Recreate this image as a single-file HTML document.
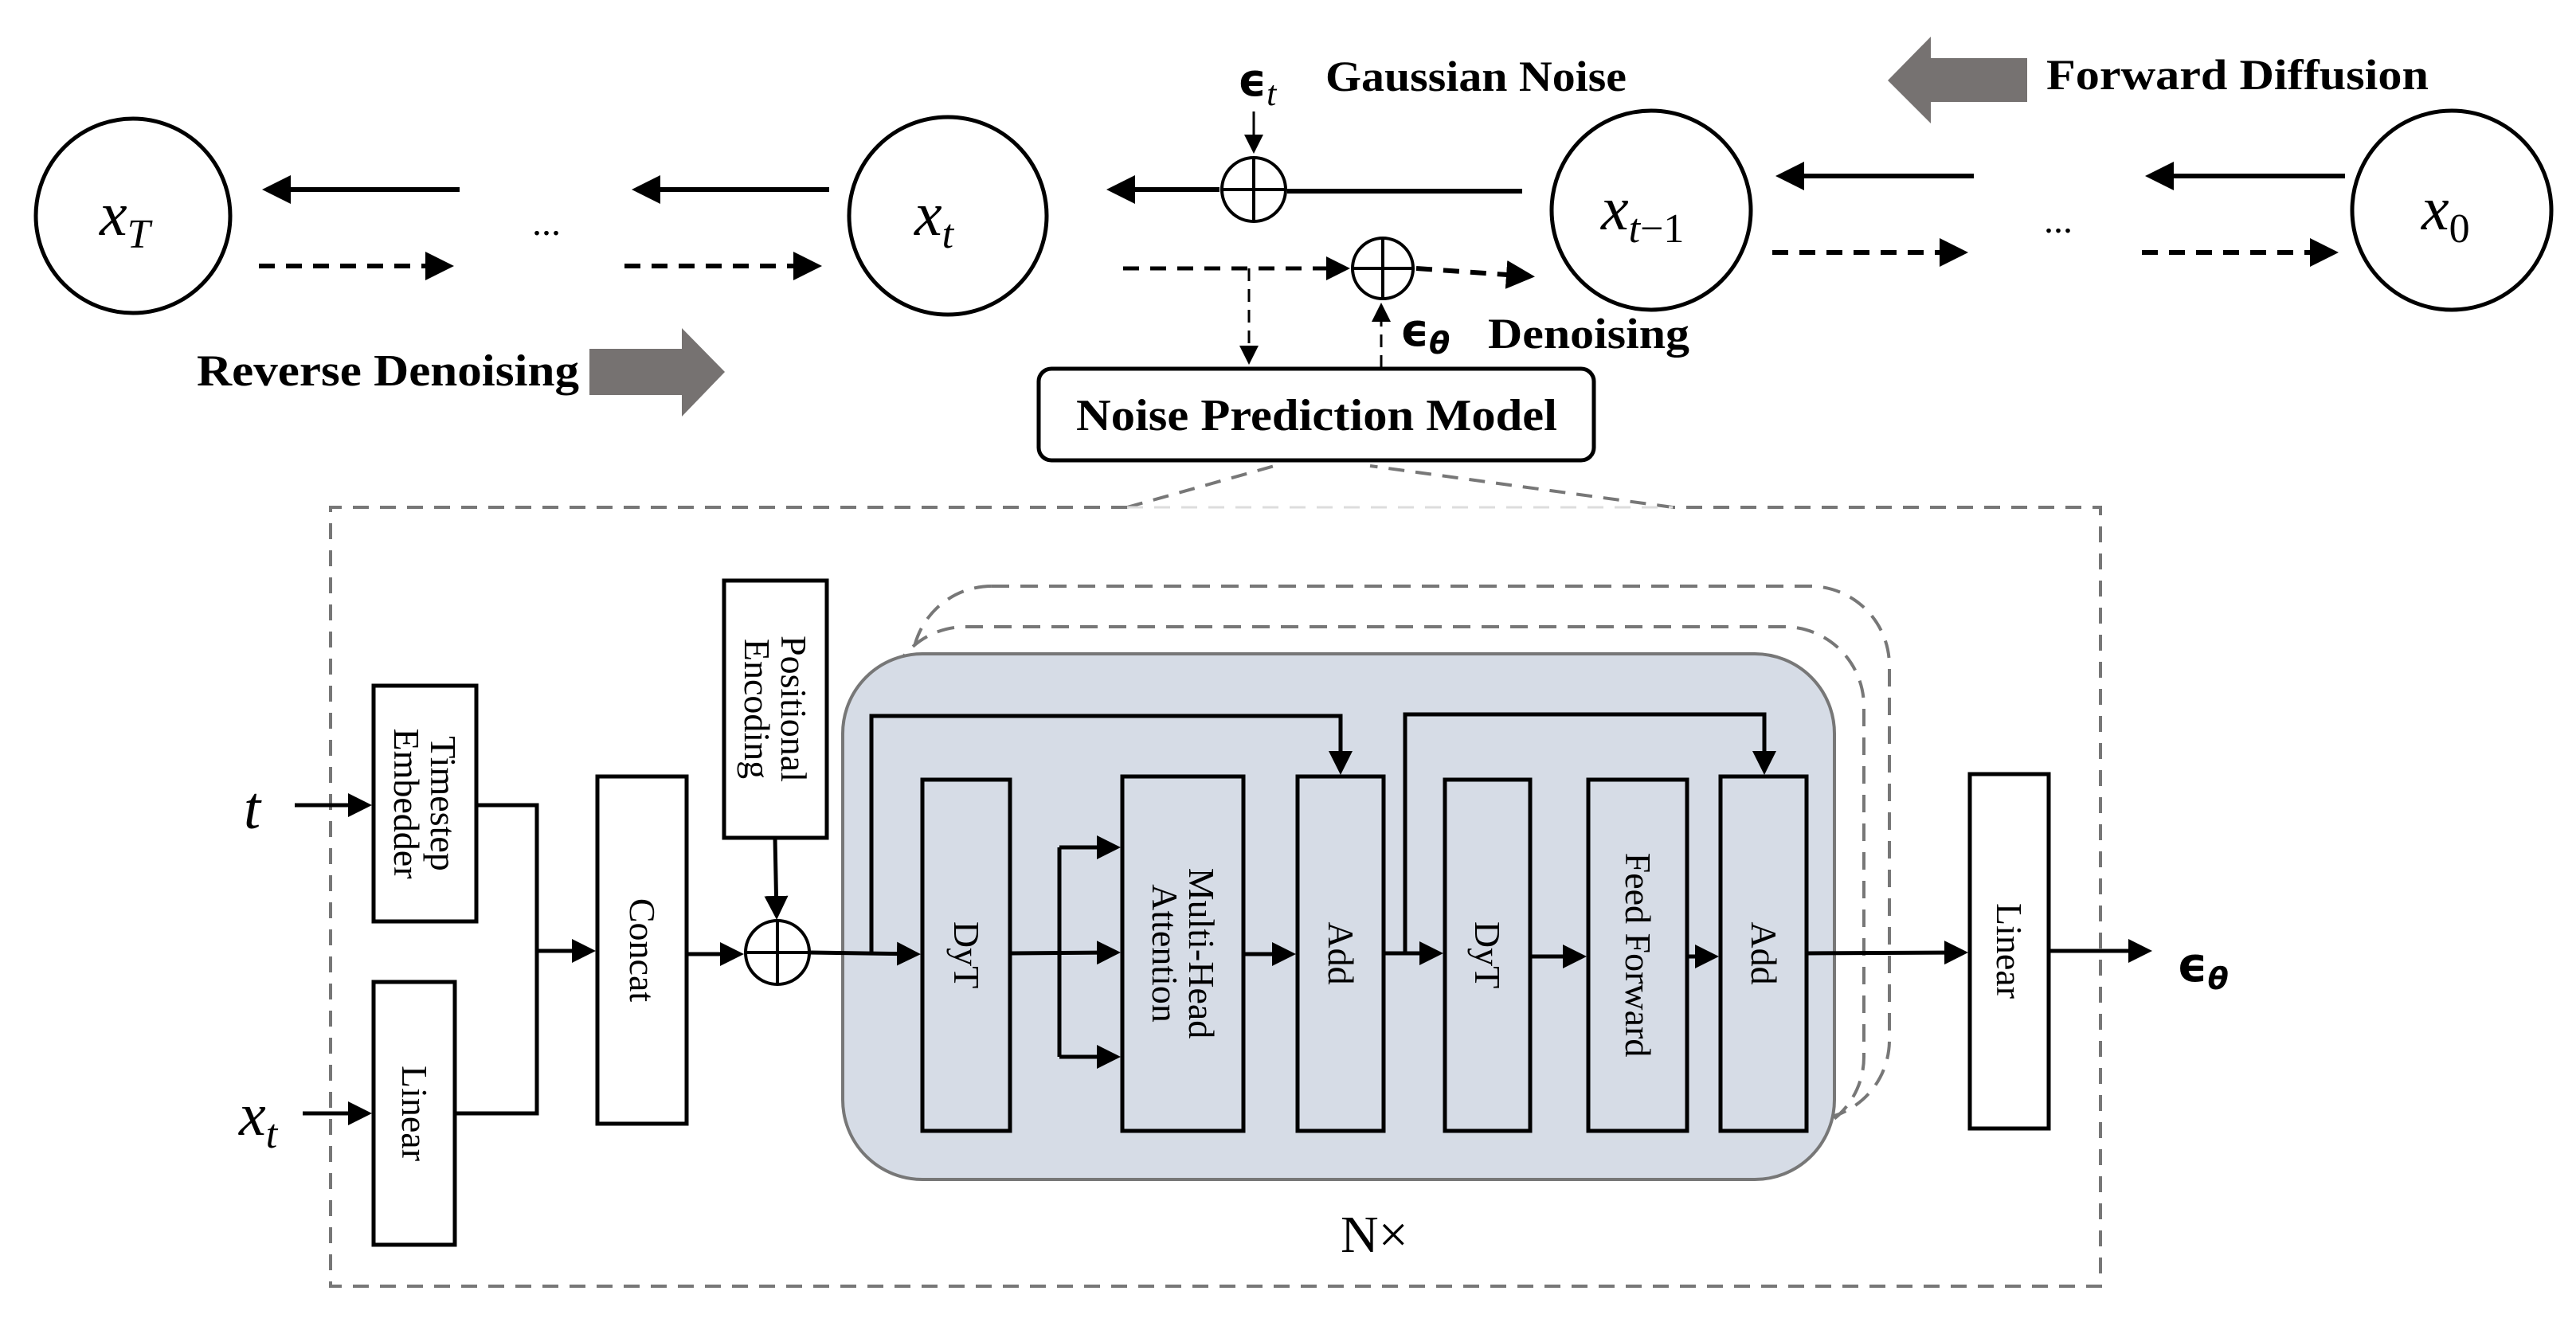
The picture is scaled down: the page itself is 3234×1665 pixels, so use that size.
<!DOCTYPE html>
<html><head><meta charset="utf-8"><style>
html,body{margin:0;padding:0;background:#fff;}
svg{display:block;}
.s{font-family:"Liberation Serif",serif;}
.b{font-family:"Liberation Serif",serif;font-weight:bold;}
.m{font-family:"Liberation Serif",serif;font-style:italic;}
.e{font-family:"DejaVu Sans",sans-serif;font-weight:bold;}
</style></head><body>
<svg width="3234" height="1665" viewBox="0 0 3234 1665" xmlns="http://www.w3.org/2000/svg">
<defs>
<marker id="a" markerWidth="6" markerHeight="6" refX="5" refY="3" orient="auto" markerUnits="strokeWidth"><path d="M0,0 L6,3 L0,6 z" fill="#000"/></marker>
<marker id="a2" markerWidth="8" markerHeight="8" refX="7" refY="4" orient="auto" markerUnits="strokeWidth"><path d="M0,0 L8,4 L0,8 z" fill="#000"/></marker>
</defs>

<g fill="none" stroke="#000" stroke-width="5">
<circle cx="167" cy="271" r="122"/>
<circle cx="1190" cy="271" r="124"/>
<circle cx="2073" cy="264" r="125"/>
<circle cx="3078" cy="264" r="125"/>
</g>
<text class="m" x="125" y="295" font-size="78">x<tspan font-size="52" dy="16">T</tspan></text>
<text class="m" x="1148" y="295" font-size="78">x<tspan font-size="52" dy="16">t</tspan></text>
<text class="m" x="2010" y="288" font-size="78">x<tspan font-size="52" dy="16">t</tspan><tspan class="s" font-style="normal" font-size="52">−1</tspan></text>
<text class="m" x="3040" y="288" font-size="78">x<tspan class="s" font-style="normal" font-size="52" dy="16">0</tspan></text>
<text class="s" x="668" y="295" font-size="48">...</text>
<text class="s" x="2566" y="292" font-size="48">...</text>

<g stroke="#000" stroke-width="6" marker-end="url(#a)">
<line x1="577" y1="238" x2="335" y2="238"/>
<line x1="1041" y1="238" x2="799" y2="238"/>
<line x1="1531" y1="238" x2="1395" y2="238"/>
<line x1="2478" y1="221" x2="2235" y2="221"/>
<line x1="2944" y1="221" x2="2699" y2="221"/>
</g>
<line x1="1911" y1="240" x2="1616" y2="240" stroke="#000" stroke-width="6"/>
<g stroke="#000" stroke-width="6" stroke-dasharray="20 14" marker-end="url(#a)">
<line x1="325" y1="334" x2="564" y2="334"/>
<line x1="784" y1="334" x2="1026" y2="334"/>
<line x1="2225" y1="317" x2="2465" y2="317"/>
<line x1="2689" y1="317" x2="2930" y2="317"/>
<line x1="1778" y1="337" x2="1921" y2="347"/>
<line x1="1410" y1="337" x2="1690" y2="337" stroke-width="5"/>
</g>
<line x1="1568" y1="337" x2="1568" y2="455" stroke="#000" stroke-width="3" stroke-dasharray="16 10" marker-end="url(#a2)"/>
<line x1="1734" y1="462" x2="1734" y2="383" stroke="#000" stroke-width="3" stroke-dasharray="16 10" marker-end="url(#a2)"/>
<line x1="1574" y1="140" x2="1574" y2="190" stroke="#000" stroke-width="3" marker-end="url(#a2)"/>

<g fill="#fff" stroke="#000" stroke-width="4">
<circle cx="1574" cy="238" r="40"/>
<circle cx="1736" cy="337" r="38"/>
<circle cx="976" cy="1196" r="40"/>
</g>
<g stroke="#000" stroke-width="4">
<line x1="1534" y1="238" x2="1614" y2="238"/><line x1="1574" y1="198" x2="1574" y2="278"/>
<line x1="1698" y1="337" x2="1774" y2="337"/><line x1="1736" y1="299" x2="1736" y2="375"/>
<line x1="936" y1="1196" x2="1016" y2="1196"/><line x1="976" y1="1156" x2="976" y2="1236"/>
</g>

<text class="e" x="1554" y="120" font-size="56">ϵ<tspan class="m" font-weight="normal" font-size="44" dy="12">t</tspan></text>
<text class="b" x="1664" y="114" font-size="54" textLength="378" lengthAdjust="spacingAndGlyphs">Gaussian Noise</text>
<text class="e" x="1758" y="434" font-size="56">ϵ<tspan font-size="38" dy="10" font-style="italic">θ</tspan></text>
<text class="b" x="1868" y="437" font-size="54" textLength="253" lengthAdjust="spacingAndGlyphs">Denoising</text>
<text class="b" x="247" y="484" font-size="56" textLength="480" lengthAdjust="spacingAndGlyphs">Reverse Denoising</text>
<text class="b" x="2569" y="112" font-size="54" textLength="480" lengthAdjust="spacingAndGlyphs">Forward Diffusion</text>

<path d="M740,438 L856,438 L856,412 L910,467 L856,523 L856,496 L740,496 z" fill="#767271"/>
<path d="M2545,73 L2424,73 L2424,46 L2370,101 L2424,155 L2424,128 L2545,128 z" fill="#767271"/>

<rect x="1304" y="463" width="697" height="115" rx="16" fill="#fff" stroke="#000" stroke-width="5"/>
<text class="b" x="1351" y="540" font-size="56" textLength="604" lengthAdjust="spacingAndGlyphs">Noise Prediction Model</text>

<g fill="none" stroke="#777" stroke-width="4" stroke-dasharray="20 14">
<path d="M1415,637 L415,637 L415,1615 L2637,1615 L2637,637 L2100,637"/>
<line x1="1415" y1="637" x2="1600" y2="585"/>
<line x1="2100" y1="637" x2="1720" y2="585"/>
</g>
<line x1="1415" y1="637" x2="2100" y2="637" stroke="#ddd" stroke-width="3" stroke-dasharray="20 14"/>

<g fill="none" stroke="#777" stroke-width="4" stroke-dasharray="22 14">
<rect x="1145" y="736" width="1227" height="670" rx="100"/>
<rect x="1112" y="787" width="1228" height="640" rx="100"/>
</g>
<rect x="1058" y="821" width="1245" height="660" rx="100" fill="#d6dce6" stroke="#777" stroke-width="4"/>

<g stroke="#000" stroke-width="5">
<rect x="469" y="861" width="129" height="296" fill="#fff"/>
<rect x="469" y="1233" width="102" height="330" fill="#fff"/>
<rect x="750" y="975" width="112" height="436" fill="#fff"/>
<rect x="909" y="729" width="129" height="323" fill="#fff"/>
<rect x="1158" y="979" width="110" height="441" fill="#d6dce6"/>
<rect x="1409" y="975" width="152" height="445" fill="#d6dce6"/>
<rect x="1629" y="975" width="108" height="445" fill="#d6dce6"/>
<rect x="1814" y="979" width="107" height="441" fill="#d6dce6"/>
<rect x="1994" y="979" width="124" height="441" fill="#d6dce6"/>
<rect x="2160" y="975" width="108" height="445" fill="#d6dce6"/>
<rect x="2473" y="972" width="99" height="445" fill="#fff"/>
</g>

<g class="s" font-size="46" text-anchor="middle">
<text transform="translate(533,1009) rotate(90)"><tspan x="0" y="-8">Timestep</tspan><tspan x="0" y="38">Embedder</tspan></text>
<text transform="translate(520,1398) rotate(90)" y="15">Linear</text>
<text transform="translate(806,1193) rotate(90)" y="15">Concat</text>
<text transform="translate(973,890) rotate(90)"><tspan x="0" y="-8">Positional</tspan><tspan x="0" y="38">Encoding</tspan></text>
<text transform="translate(1213,1199) rotate(90)" y="15">DyT</text>
<text transform="translate(1485,1197) rotate(90)"><tspan x="0" y="-8">Multi-Head</tspan><tspan x="0" y="38">Attention</tspan></text>
<text transform="translate(1683,1197) rotate(90)" y="15">Add</text>
<text transform="translate(1867,1199) rotate(90)" y="15">DyT</text>
<text transform="translate(2056,1199) rotate(90)" y="15">Feed Forward</text>
<text transform="translate(2214,1197) rotate(90)" y="15">Add</text>
<text transform="translate(2522,1194) rotate(90)" y="15">Linear</text>
</g>

<text class="m" x="306" y="1040" font-size="76">t</text>
<text class="m" x="300" y="1425" font-size="76">x<tspan font-size="52" dy="16">t</tspan></text>
<text class="s" x="1683" y="1572" font-size="66">N×</text>
<text class="e" x="2733" y="1232" font-size="60">ϵ<tspan font-size="38" dy="10" font-style="italic">θ</tspan></text>

<g fill="none" stroke="#000" stroke-width="5">
<polyline points="598,1011 674,1011 674,1398 571,1398"/>
<polyline points="1094,1196 1094,899 1683,899 1683,930"/>
<polyline points="1764,1197 1764,897 2215,897 2215,930"/>
<line x1="1330" y1="1064" x2="1330" y2="1327"/>
</g>
<g stroke="#000" stroke-width="5" marker-end="url(#a)">
<line x1="370" y1="1011" x2="462" y2="1011"/>
<line x1="380" y1="1398" x2="462" y2="1398"/>
<line x1="674" y1="1194" x2="743" y2="1194"/>
<line x1="862" y1="1198" x2="929" y2="1198"/>
<line x1="973" y1="1052" x2="975" y2="1150"/>
<line x1="1016" y1="1196" x2="1151" y2="1198"/>
<line x1="1268" y1="1197" x2="1402" y2="1196"/>
<line x1="1330" y1="1064" x2="1402" y2="1064"/>
<line x1="1330" y1="1327" x2="1402" y2="1327"/>
<line x1="1561" y1="1198" x2="1622" y2="1198"/>
<line x1="1737" y1="1197" x2="1807" y2="1197"/>
<line x1="1921" y1="1201" x2="1987" y2="1201"/>
<line x1="2118" y1="1201" x2="2153" y2="1201"/>
<line x1="2268" y1="1197" x2="2466" y2="1196"/>
<line x1="2572" y1="1194" x2="2697" y2="1194"/>
<line x1="1683" y1="899" x2="1683" y2="968"/>
<line x1="2215" y1="897" x2="2215" y2="968"/>
</g>
</svg>
</body></html>
